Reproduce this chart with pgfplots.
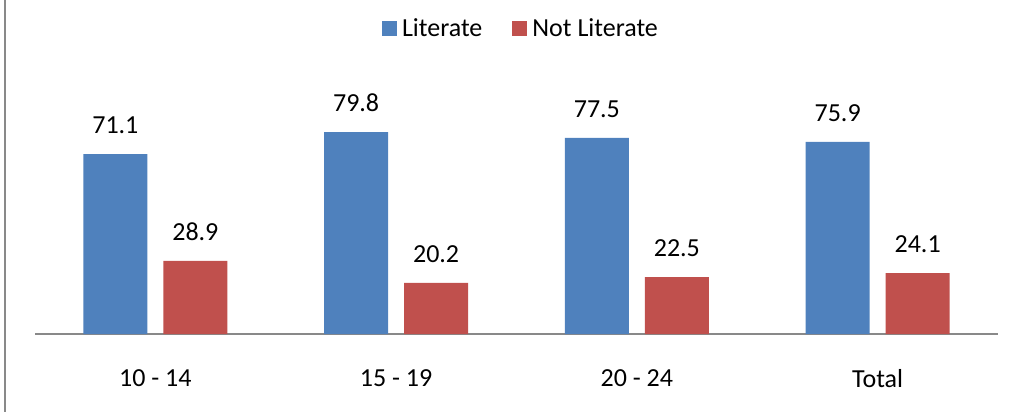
\documentclass[border=0pt]{standalone}
\usepackage{fontspec}
\setmainfont{Carlito}
\usepackage{pgfplots}
\pgfplotsset{compat=1.18}
\definecolor{cblue}{HTML}{4F81BD}
\definecolor{cred}{HTML}{C0504D}
\definecolor{cgray}{HTML}{898989}
\begin{document}
\begin{tikzpicture}
\useasboundingbox (-35bp,-79bp) rectangle (979bp,334bp);
\draw[cgray, line width=2bp] (-29.5bp,334bp) -- (-29.5bp,-78bp);
\begin{axis}[
  at={(0,0)}, anchor=south west,
  scale only axis,
  width=963bp, height=278.3bp,
  xmin=-0.5, xmax=3.5, ymin=0, ymax=110,
  ybar=16bp, bar width=64bp,
  hide y axis,
  axis x line*=bottom,
  x axis line style={cgray, line width=2bp},
  xtick={0,1,2,3},
  xticklabels={10 - 14,15 - 19,20 - 24,Total},
  xtick style={draw=none},
  xticklabel style={anchor=center, yshift=-40bp, font=\fontsize{26bp}{30bp}\selectfont},
  /pgf/number format/assume math mode=true,
  /pgf/number format/fixed,
  /pgf/number format/precision=1,
  /pgf/number format/fixed zerofill,
  nodes near coords,
  every node near coord/.append style={anchor=center, yshift=29bp, text=black, font=\fontsize{26bp}{30bp}\selectfont},
  legend style={at={(0.5062,1.0995)}, anchor=center, draw=none, legend columns=2,
    font=\fontsize{26bp}{30bp}\selectfont,
    /tikz/every even column/.append style={column sep=25bp},
    nodes={inner sep=5bp}},
  legend image code/.code={\fill[#1] (0bp,-7.5bp) rectangle (15bp,7.5bp);},
  clip=false,
]
\addplot[fill=cblue, draw=none] coordinates {(0,71.1) (1,79.8) (2,77.5) (3,75.9)};
\addplot[fill=cred, draw=none] coordinates {(0,28.9) (1,20.2) (2,22.5) (3,24.1)};
\legend{Literate,Not Literate}
\end{axis}
\end{tikzpicture}
\end{document}
